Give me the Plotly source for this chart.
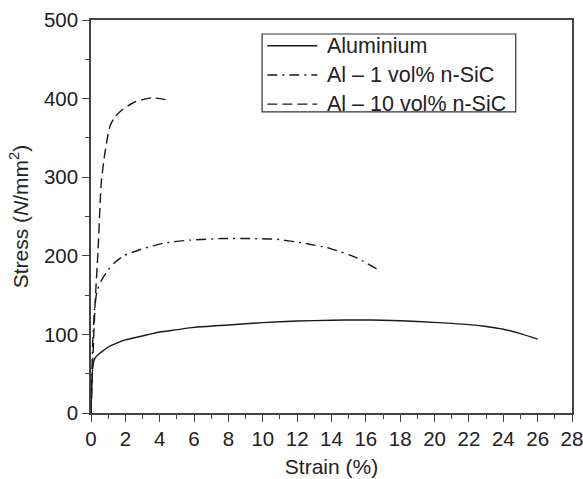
import plotly.graph_objects as go

# Aluminium
al_strain = [0, 0.03, 0.06, 0.1, 0.15, 0.25, 0.4, 0.7, 1.0, 1.5, 2.0, 3.0, 4.0, 5.0, 6.0, 8.0, 10.0, 12.0, 14.0, 15.5, 17.0, 19.0, 21.0, 22.0, 23.0, 24.0, 25.0, 26.0]
al_stress = [0, 25, 45, 58, 65, 70, 74, 79, 84, 89, 93, 98, 103, 106, 109, 112, 115, 117, 118, 118.5, 118, 116.5, 114, 112.5, 110, 106.5, 101, 94]

# Al - 1 vol% n-SiC
al1_strain = [0, 0.05, 0.1, 0.2, 0.35, 0.64, 1.0, 1.31, 1.9, 2.87, 4.2, 5.77, 7.7, 9.26, 10.8, 12.4, 13.9, 15.5, 16.8]
al1_stress = [0, 50, 90, 130, 155, 170, 182, 190, 200, 208, 216, 220, 222, 222, 221, 216, 209.5, 197, 181]

# Al - 10 vol% n-SiC
al10_strain = [0, 0.05, 0.15, 0.25, 0.41, 0.54, 0.6, 0.79, 0.99, 1.12, 1.41, 1.8, 2.58, 3.55, 4.5]
al10_stress = [0, 30, 93, 144, 207, 271, 294, 328, 354, 366, 377, 385.5, 396, 401, 398]

series_names = ["Aluminium", "Al \u2013 1 vol% n-SiC", "Al \u2013 10 vol% n-SiC"]
series_x = [al_strain, al1_strain, al10_strain]
series_y = [al_stress, al1_stress, al10_stress]
series_dash = ["solid", "10px,5px,2px,5px", "10px,5px"]

x_ticks = list(range(0, 29, 2))
y_ticks = [0, 100, 200, 300, 400, 500]

FONT = "Liberation Sans, Arial, sans-serif"
LINE_COLOR = "#1a1a1a"
TEXT_COLOR = "#222"

fig = go.Figure()
for xs, ys, name, dash in zip(series_x, series_y, series_names, series_dash):
    fig.add_trace(go.Scatter(x=xs, y=ys, mode="lines", name=name, showlegend=False,
                             line=dict(color=LINE_COLOR, width=1.4, dash=dash,
                                       shape="spline", smoothing=0.6)))

axis_common = dict(
    showgrid=False, zeroline=False, showline=True, linecolor="#444", linewidth=1.5,
    mirror=True, ticks="outside", ticklen=7, tickwidth=1.3, tickcolor="#444",
    tickfont=dict(family=FONT, size=20.5, color=TEXT_COLOR), automargin=False,
    ticklabeloverflow="allow",
)

fig.update_xaxes(
    **axis_common, range=[0, 28], tickvals=x_ticks, ticktext=[str(v) for v in x_ticks],
    minor=dict(dtick=1, ticks="outside", ticklen=4, tickwidth=1.2, tickcolor="#444", showgrid=False),
    title=dict(text="Strain (%)", font=dict(family=FONT, size=21, color=TEXT_COLOR), standoff=10),
)
fig.update_yaxes(
    **axis_common, range=[0, 500], tickvals=y_ticks, ticktext=[str(v) for v in y_ticks],
    minor=dict(dtick=50, ticks="outside", ticklen=4, tickwidth=1.2, tickcolor="#444", showgrid=False),
    title=dict(text="Stress (<i>N</i>/mm<sup>2</sup>)", font=dict(family=FONT, size=21, color=TEXT_COLOR), standoff=10),
)

# Custom legend box (paper coordinates)
leg_x0, leg_x1, leg_y0, leg_y1 = 0.3557, 0.883, 0.766, 0.9644
row_y = [0.9346, 0.860, 0.786]
sample_x0, sample_x1, text_x = 0.3666, 0.4704, 0.486

shapes = [dict(type="rect", xref="paper", yref="paper", x0=leg_x0, x1=leg_x1, y0=leg_y0, y1=leg_y1,
               line=dict(color="#333", width=1.2), fillcolor="white", layer="above")]
annotations = []
for name, dash, ry in zip(series_names, series_dash, row_y):
    shapes.append(dict(type="line", xref="paper", yref="paper", x0=sample_x0, x1=sample_x1, y0=ry, y1=ry,
                       line=dict(color=LINE_COLOR, width=1.4, dash=dash), layer="above"))
    annotations.append(dict(xref="paper", yref="paper", x=text_x, y=ry, xanchor="left", yanchor="middle",
                            text=name, showarrow=False,
                            font=dict(family=FONT, size=21.5, color=TEXT_COLOR)))

fig.update_layout(
    width=583, height=479,
    margin=dict(l=91, r=11, t=20, b=66),
    paper_bgcolor="white", plot_bgcolor="white",
    font=dict(family=FONT, size=20, color=TEXT_COLOR),
    showlegend=False,
    shapes=shapes, annotations=annotations,
)

fig.write_html("out.html", config={"displayModeBar": False},
               post_script="document.body.style.margin='0';document.body.style.padding='0';")
